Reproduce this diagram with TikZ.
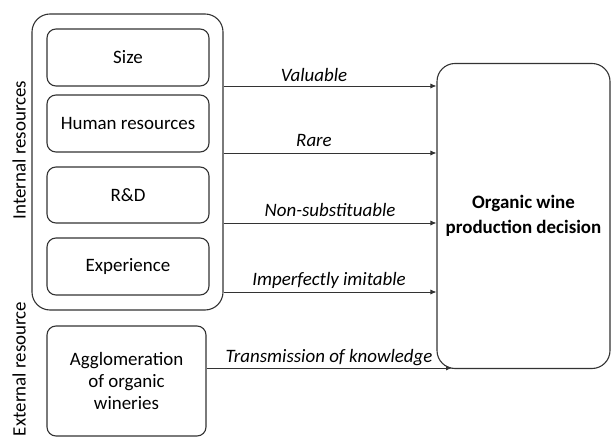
\documentclass[tikz,border=0pt]{standalone}
\usepackage{fontspec}
\setmainfont{Carlito}
\usetikzlibrary{arrows.meta}
\begin{document}
\begin{tikzpicture}[x=1bp,y=-1bp,
  box/.style={draw=black!80, line width=1.1bp, rounded corners=9bp, inner sep=0pt, font=\fontsize{19}{22.5}\selectfont, align=center},
  bigbox/.style={draw=black!80, line width=1.1bp, rounded corners=18bp, inner sep=0pt},
  conn/.style={draw=black!80, line width=0.8bp, -{Latex[length=6bp,width=5bp]}},
  lab/.style={font=\fontsize{19}{22}\selectfont\itshape, inner sep=0pt, anchor=base},
  side/.style={font=\fontsize{19}{22}\selectfont, rotate=90, inner sep=0pt}]
\useasboundingbox (0,0) rectangle (611,439);
% outer internal box
\node[bigbox, minimum width=191bp, minimum height=296bp] (int) at (127.5,162) {};
\node[box, minimum width=162bp, minimum height=57bp] (size) at (128,57.5) {Size};
\node[box, minimum width=162bp, minimum height=57bp] (hr) at (128,123.5) {Human resources};
\node[box, minimum width=162bp, minimum height=56bp] (rd) at (128,195) {R\&D};
\node[box, minimum width=162bp, minimum height=57bp] (exp) at (128,266.5) {Experience};
\node[box, minimum width=159bp, minimum height=110bp] (agg) at (126.5,381) {Agglomeration\\of organic\\wineries};
% decision box
\node[bigbox, minimum width=173bp, minimum height=305bp, font=\fontsize{19}{25}\selectfont\bfseries, align=center] (dec) at (523.5,216) {Organic wine\\production decision};
% side labels
\node[side] (il) at (19,150) {Internal resources};
\node[side] (el) at (19,369) {External resource};
% connectors
\coordinate (v1) at (int.east |- 0,86);
\coordinate (v2) at (int.east |- 0,153);
\coordinate (v3) at (int.east |- 0,223);
\coordinate (v4) at (int.east |- 0,292);
\coordinate (t1) at (dec.west |- 0,86);
\coordinate (t2) at (dec.west |- 0,153);
\coordinate (t3) at (dec.west |- 0,223);
\coordinate (t4) at (dec.west |- 0,292);
\coordinate (t5) at (452,368);
\draw[conn] (v1) -- (t1);
\draw[conn] (v2) -- (t2);
\draw[conn] (v3) -- (t3);
\draw[conn] (v4) -- (t4);
\draw[conn] (agg.east |- 0,368) -- (t5);
\node[lab] (l1) at (314,82) {Valuable};
\node[lab] (l2) at (314,147) {Rare};
\node[lab] (l3) at (330,217) {Non-substituable};
\node[lab] (l4) at (329,286) {Imperfectly imitable};
\node[lab] (l5) at (329,362) {Transmission of knowledge};
\end{tikzpicture}
\end{document}
